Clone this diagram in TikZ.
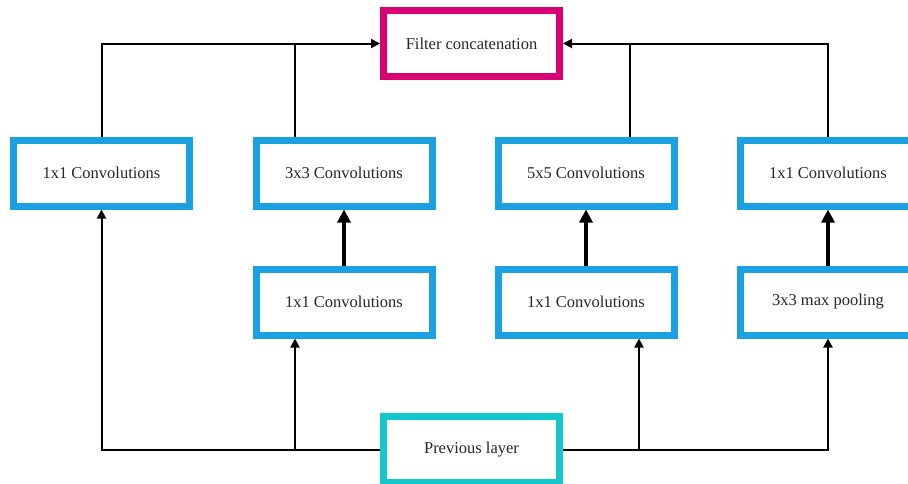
\documentclass[tikz,border=0pt]{standalone}
\usepackage{fontspec}
\setmainfont{Liberation Serif}
\usetikzlibrary{arrows.meta}
\definecolor{boxblue}{HTML}{1BA1E2}
\definecolor{boxmag}{HTML}{D80073}
\definecolor{boxcyan}{HTML}{12C8CC}
\begin{document}
\begin{tikzpicture}[x=1pt,y=-1pt,
  box/.style={draw=#1,line width=7pt,fill=white,minimum width=176pt,minimum height=66pt,inner sep=0pt,
    font=\fontsize{16.5}{20}\selectfont,text=black!85},
  thin/.style={line width=2pt,-{Triangle[length=9pt,width=9pt]}},
  thinline/.style={line width=2pt},
  thick/.style={line width=4.5pt,-{Triangle[length=13pt,width=13pt]}}]
\useasboundingbox (0,0) rectangle (908,483);
\node[box=boxmag] (fc) at (471.5,43.5) {Filter concatenation};
\node[box=boxcyan] (pl) at (471.5,449.5) {Previous layer};
\node[box=boxblue] (a1) at (101.5,173) {1x1 Convolutions};
\node[box=boxblue] (b1) at (344,173) {3x3 Convolutions};
\node[box=boxblue] (c1) at (586,173) {5x5 Convolutions};
\node[box=boxblue] (d1) at (828,173) {1x1 Convolutions};
\node[box=boxblue] (b2) at (344,302) {1x1 Convolutions};
\node[box=boxblue] (c2) at (586,302) {1x1 Convolutions};
\node[box=boxblue] (d2) at (828,302) {3x3 max pooling};
\coordinate (tl) at (101.5,43.5);
\coordinate (tr) at (828,43.5);
\coordinate (bl) at (101.5,449.5);
\coordinate (br) at (828,449.5);
\coordinate (jt1) at (295,43.5);
\coordinate (jt2) at (630,43.5);
\coordinate (jb1) at (295,449.5);
\coordinate (jb2) at (639,449.5);
% top
\draw[thin] (a1.north) -- (tl) -- (fc.west);
\draw[thinline] (b1.north -| jt1) -- (jt1);
\draw[thin] (d1.north) -- (tr) -- (fc.east);
\draw[thinline] (c1.north -| jt2) -- (jt2);
% bottom
\draw[thin] (pl.west) -- (bl) -- (a1.south);
\draw[thin] (jb1) -- (b2.south -| jb1);
\draw[thin] (pl.east) -- (br) -- (d2.south);
\draw[thin] (jb2) -- (c2.south -| jb2);
% thick
\draw[thick] (b2.north) -- (b1.south);
\draw[thick] (c2.north) -- (c1.south);
\draw[thick] (d2.north) -- (d1.south);
\end{tikzpicture}
\end{document}
